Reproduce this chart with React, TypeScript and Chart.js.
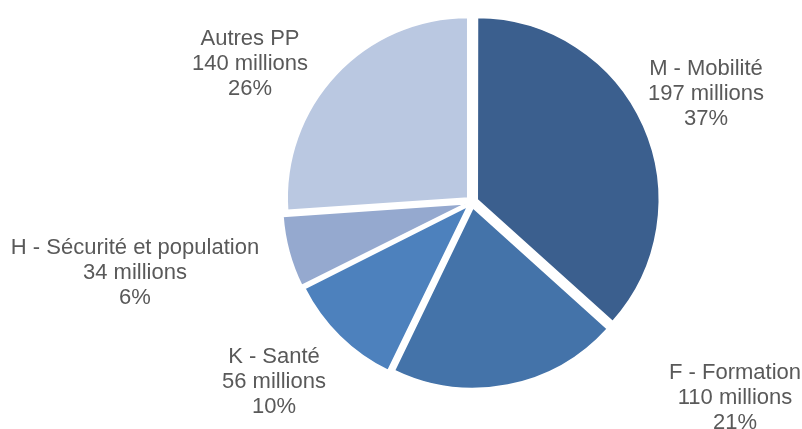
import React, { useEffect, useRef } from "react";
import { Chart, registerables } from "chart.js";

Chart.register(...registerables);

const categories = ["M - Mobilité", "F - Formation", "K - Santé", "H - Sécurité et population", "Autres PP"];
const amounts = [197, 110, 56, 34, 140];
const amountLabels = ["197 millions", "110 millions", "56 millions", "34 millions", "140 millions"];
const percentLabels = ["37%", "21%", "10%", "6%", "26%"];
const colors = ["#3B5F8E", "#4473A9", "#4D81BD", "#95A9CF", "#BAC8E1"];

// label block centre (middle line), relative to the pie centre
const labelOffsets = [
  [234, -108],
  [263, 196],
  [-198, 180],
  [-337, 71],
  [-222, -138],
];

const FONT = "22px 'Liberation Sans', Arial, sans-serif";
const LINE = 25;

const labelPlugin = {
  id: "pieLabels",
  afterDraw(chart: any) {
    const ctx = chart.ctx;
    const meta = chart.getDatasetMeta(0);
    ctx.save();
    ctx.font = FONT;
    ctx.fillStyle = "#595959";
    ctx.textAlign = "center";
    ctx.textBaseline = "middle";
    meta.data.forEach((arc: any, i: number) => {
      const cx = arc.x + labelOffsets[i][0];
      const cy = arc.y + labelOffsets[i][1];
      const lines = [categories[i], amountLabels[i], percentLabels[i]];
      lines.forEach((t, j) => ctx.fillText(t, cx, cy + (j - 1) * LINE));
    });
    ctx.restore();
  },
};

export default function App() {
  const ref = useRef<HTMLCanvasElement>(null);
  useEffect(() => {
    document.body.style.margin = "0";
    const chart = new Chart(ref.current!, {
      type: "pie",
      data: {
        labels: categories,
        datasets: [
          {
            data: amounts,
            backgroundColor: colors,
            borderColor: "#ffffff",
            borderWidth: 2,
            offset: 22,
            hoverOffset: 0,
          } as any,
        ],
      },
      options: {
        responsive: false,
        animation: false,
        radius: 181,
        layout: { padding: { left: 142, right: 0, top: 0, bottom: 25 } },
        plugins: { legend: { display: false }, tooltip: { enabled: false } },
      } as any,
      plugins: [labelPlugin],
    });
    return () => chart.destroy();
  }, []);
  return (
    <div style={{ width: 802, height: 429, background: "#fff" }}>
      <canvas ref={ref} width={802} height={429} />
    </div>
  );
}
